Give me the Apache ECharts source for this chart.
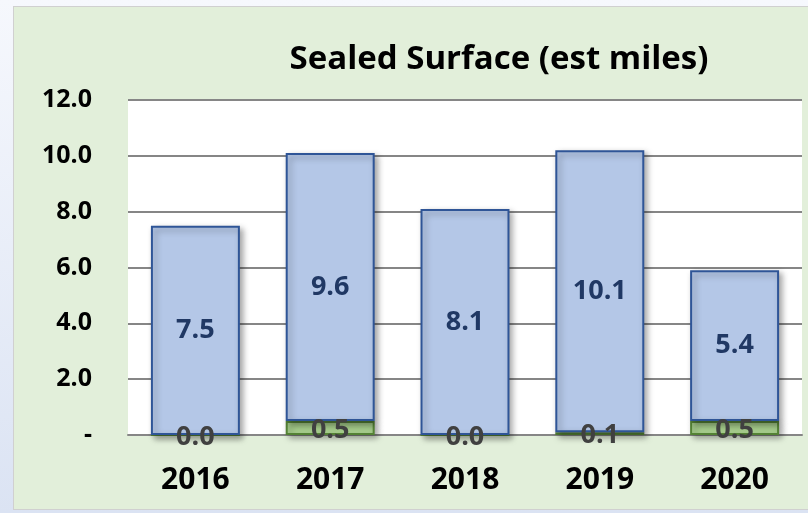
<!DOCTYPE html>
<html>
<head>
<meta charset="utf-8">
<script src="https://cdn.jsdelivr.net/npm/echarts@6/dist/echarts.min.js"></script>
<style>
html,body{margin:0;padding:0;width:808px;height:513px;overflow:hidden;
background:linear-gradient(to bottom,#f6f8fd,#dbe3f3);}
#panel{position:absolute;left:13px;top:6px;width:800px;height:504px;background:#e2efda;border:1px solid #d0d0d0;box-sizing:border-box;}
#chart{position:absolute;left:0;top:0;width:808px;height:513px;}
</style>
</head>
<body>
<div id="panel"></div>
<div id="chart"></div>
<script>
const categories = ['2016','2017','2018','2019','2020'];
const greenValues = [0.0, 0.5, 0.0, 0.1, 0.5];
const blueValues = [7.5, 9.6, 8.1, 10.1, 5.4];
const yTicks = [0, 2, 4, 6, 8, 10, 12];

const chart = echarts.init(document.getElementById('chart'));
const shadow = {shadowColor:'rgba(0,0,0,0.35)', shadowBlur:6, shadowOffsetX:3, shadowOffsetY:3};
chart.setOption({
  backgroundColor:'transparent',
  title:{text:'Sealed Surface (est miles)', left:494, top:38, textAlign:'center',
    textStyle:{fontFamily:'Open Sans', fontWeight:'bold', fontSize:33, color:'#000'}},
  grid:{left:128, right:6, top:100, bottom:78, show:true, backgroundColor:'#ffffff', borderWidth:0},
  xAxis:{type:'category', data:categories,
    axisLine:{lineStyle:{color:'#868686', width:2}},
    axisTick:{show:false},
    axisLabel:{fontFamily:'Open Sans', fontWeight:'bold', fontSize:30, color:'#000', margin:30}},
  yAxis:{type:'value', min:yTicks[0], max:yTicks[yTicks.length-1], interval:2,
    axisLine:{show:false}, axisTick:{show:false},
    splitLine:{lineStyle:{color:'#868686', width:2}},
    axisLabel:{fontFamily:'Open Sans', fontWeight:'bold', fontSize:25, color:'#000', margin:36,
      formatter:v=> v===0 ? '-' : v.toFixed(1)}},
  series:[
    {type:'bar', stack:'s', data:greenValues, barWidth:'66%',
      itemStyle:Object.assign({color:'#a9d18e', borderColor:'#548235', borderWidth:2}, shadow),
      label:{show:true, position:'inside', offset:[0,2], fontFamily:'Open Sans', fontWeight:'bold', fontSize:27, color:'#404040',
        formatter:p=>p.value.toFixed(1)}},
    {type:'bar', stack:'s', data:blueValues, barWidth:'66%',
      itemStyle:Object.assign({color:'#b4c7e7', borderColor:'#2f5597', borderWidth:2}, shadow),
      label:{show:true, position:'inside', fontFamily:'Open Sans', fontWeight:'bold', fontSize:27, color:'#203864',
        formatter:p=>p.value.toFixed(1)}}
  ]
});
</script>
</body>
</html>
